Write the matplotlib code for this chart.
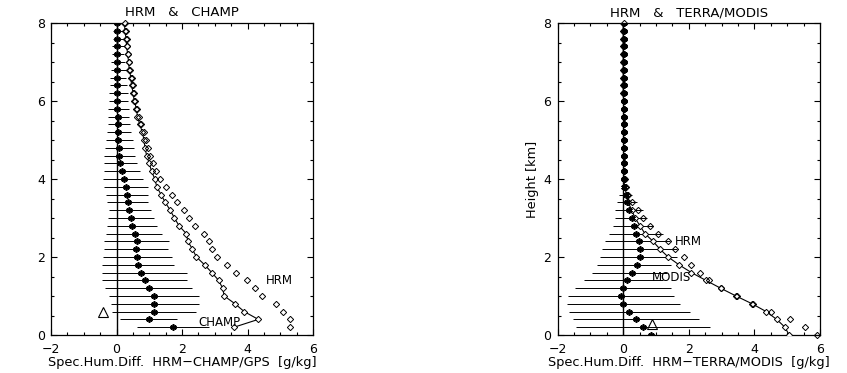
import numpy as np
import matplotlib
matplotlib.use("Agg")
import matplotlib.pyplot as plt
from matplotlib.ticker import MultipleLocator

# ---------------- data ----------------
heights_L = [0.2, 0.4, 0.6, 0.8, 1.0, 1.2, 1.4, 1.6, 1.8, 2.0,
             2.2, 2.4, 2.6, 2.8, 3.0, 3.2, 3.4, 3.6, 3.8, 4.0,
             4.2, 4.4, 4.6, 4.8, 5.0, 5.2, 5.4, 5.6, 5.8, 6.0,
             6.2, 6.4, 6.6, 6.8, 7.0, 7.2, 7.4, 7.6, 7.8, 8.0]
champ_L = [3.59, 4.33, 3.90, 3.62, 3.29, 3.24, 3.12, 2.91, 2.69, 2.44,
           2.32, 2.18, 2.13, 1.91, 1.77, 1.64, 1.49, 1.36, 1.23, 1.17,
           1.07, 1.00, 0.92, 0.87, 0.84, 0.79, 0.71, 0.64, 0.61, 0.54,
           0.51, 0.46, 0.44, 0.39, 0.37, 0.34, 0.31, 0.29, 0.26, 0.24]
hrm_L = [5.30, 5.30, 5.09, 4.86, 4.44, 4.22, 3.97, 3.64, 3.36, 3.08,
         2.91, 2.81, 2.68, 2.40, 2.22, 2.05, 1.84, 1.68, 1.51, 1.33,
         1.20, 1.10, 1.03, 0.95, 0.90, 0.83, 0.74, 0.68, 0.64, 0.58,
         0.54, 0.49, 0.46, 0.42, 0.39, 0.36, 0.33, 0.31, 0.28, 0.26]
diff_L = [1.73, 0.98, 1.15, 1.16, 1.15, 0.98, 0.86, 0.74, 0.65, 0.64,
          0.59, 0.63, 0.55, 0.47, 0.44, 0.39, 0.34, 0.32, 0.29, 0.22,
          0.16, 0.12, 0.09, 0.07, 0.06, 0.05, 0.04, 0.04, 0.03, 0.02,
          0.02, 0.01, 0.00, 0.00, 0.00, 0.00, 0.00, 0.02, 0.02, 0.03]
err_lo_L = [0.64, 0.11, -0.14, -0.17, -0.24, -0.35, -0.43, -0.43, -0.45, -0.40,
            -0.38, -0.37, -0.32, -0.29, -0.26, -0.23, -0.29, -0.33, -0.37, -0.40,
            -0.38, -0.37, -0.37, -0.35, -0.32, -0.29, -0.27, -0.27, -0.25, -0.22,
            -0.22, -0.19, -0.19, -0.17, -0.17, -0.15, -0.15, -0.12, -0.12, -0.09]
err_hi_L = [2.83, 1.86, 2.42, 2.52, 2.52, 2.32, 2.15, 2.15, 1.76, 1.69,
            1.56, 1.60, 1.40, 1.25, 1.15, 1.05, 0.97, 0.97, 0.97, 0.82,
            0.72, 0.62, 0.56, 0.52, 0.49, 0.44, 0.42, 0.39, 0.39, 0.36,
            0.34, 0.32, 0.29, 0.29, 0.26, 0.24, 0.24, 0.22, 0.18, 0.15]
tri_L = (-0.40, 0.58)

heights_R = [0.0, 0.2, 0.4, 0.6, 0.8, 1.0, 1.2, 1.4, 1.6, 1.8, 2.0,
             2.2, 2.4, 2.6, 2.8, 3.0, 3.2, 3.4, 3.6, 3.8, 4.0,
             4.2, 4.4, 4.6, 4.8, 5.0, 5.2, 5.4, 5.6, 5.8, 6.0,
             6.2, 6.4, 6.6, 6.8, 7.0, 7.2, 7.4, 7.6, 7.8, 8.0]
modis_R = [5.06, 4.93, 4.68, 4.36, 3.93, 3.44, 2.97, 2.52, 2.08, 1.70, 1.37,
           1.12, 0.91, 0.66, 0.51, 0.36, 0.26, 0.15, 0.10, 0.04, 0.02,
           0.01, 0.01, 0.01, 0.01, 0.01, 0.01, 0.01, 0.01, 0.01, 0.01,
           0.00, 0.00, 0.00, 0.00, 0.00, 0.00, 0.00, 0.00, 0.00, 0.00]
hrm_R = [5.90, 5.54, 5.08, 4.52, 3.95, 3.46, 2.99, 2.62, 2.34, 2.08, 1.86,
         1.58, 1.37, 1.07, 0.81, 0.61, 0.44, 0.27, 0.15, 0.08, 0.04,
         0.03, 0.03, 0.03, 0.03, 0.03, 0.03, 0.03, 0.03, 0.03, 0.03,
         0.03, 0.03, 0.03, 0.03, 0.03, 0.03, 0.03, 0.03, 0.03, 0.03]
diff_R = [0.84, 0.59, 0.38, 0.18, 0.00, -0.07, 0.00, 0.12, 0.27, 0.41, 0.50,
          0.50, 0.48, 0.39, 0.33, 0.26, 0.18, 0.12, 0.07, 0.03, 0.02,
          0.03, 0.03, 0.03, 0.03, 0.03, 0.03, 0.03, 0.03, 0.03, 0.03,
          0.03, 0.03, 0.03, 0.03, 0.03, 0.03, 0.03, 0.03, 0.03, 0.03]
err_lo_R = [np.nan, -1.44, -1.54, -1.66, -1.71, -1.68, -1.47, -1.20, -0.96, -0.81, -0.71,
            -0.64, -0.56, -0.44, -0.30, -0.25, -0.24, -0.18, -0.12, -0.05, -0.04,
            -0.03, -0.03, -0.03, -0.03, -0.03, -0.03, -0.03, -0.03, -0.02, -0.02,
            -0.02, -0.02, -0.02, -0.02, -0.02, -0.02, -0.02, -0.02, -0.02, -0.02]
err_hi_R = [np.nan, 2.64, 2.32, 2.03, 1.73, 1.55, 1.47, 1.22, 1.32, 1.47, 1.63,
            1.63, 1.42, 1.22, 0.91, 0.71, 0.61, 0.41, 0.26, 0.17, 0.10,
            0.08, 0.08, 0.08, 0.08, 0.07, 0.07, 0.07, 0.07, 0.07, 0.07,
            0.06, 0.06, 0.06, 0.06, 0.06, 0.06, 0.06, 0.06, 0.06, 0.06]
tri_R = (0.87, 0.28)

xticks = [-2, 0, 2, 4, 6]
yticks = [0, 2, 4, 6, 8]

# ---------------- figure ----------------
plt.rcParams['font.family'] = ['DejaVu Sans']
FS_TICK = 9
FS_LAB = 9.3
FS_TITLE = 9.5
FS_TXT = 8.5
fig = plt.figure(figsize=(8.47, 3.73), dpi=100)
axL = fig.add_axes([51 / 847, 38 / 373, 262 / 847, 312 / 373])
axR = fig.add_axes([557.7 / 847, 38 / 373, 262.3 / 847, 312 / 373])


def draw(ax, h, obs, hrm, diff, lo, hi, tri, title, xlabel, labels, ylabel=None):
    h = np.asarray(h)
    ax.set_xlim(-2, 6)
    ax.set_ylim(0, 8)
    ax.axvline(0, color='black', lw=1.0, zorder=2)
    ax.hlines(h, lo, hi, color='black', lw=0.7, zorder=2)
    ax.plot(diff, h, linestyle='none', marker=(6, 2, 0), markersize=4.6,
            mew=1.2, color='black', zorder=4)
    ax.plot(obs, h, color='black', lw=0.8, marker='D', markersize=3.2,
            mfc='white', mec='black', mew=0.7, zorder=3)
    ax.plot(hrm, h, linestyle='none', marker='D', markersize=3.2,
            mfc='none', mec='black', mew=0.7, zorder=3, clip_on=False)
    ax.plot([tri[0]], [tri[1]], linestyle='none', marker='^', markersize=7,
            mfc='none', mec='black', mew=0.8, zorder=5)
    for (tx, ty, s) in labels:
        ax.text(tx, ty, s, fontsize=FS_TXT, ha='center', va='center', zorder=6)
    ax.set_title(title, fontsize=FS_TITLE, pad=5)
    ax.set_xlabel(xlabel, fontsize=FS_LAB, labelpad=0)
    if ylabel:
        ax.set_ylabel(ylabel, fontsize=FS_LAB, labelpad=3)
    ax.set_xticks(xticks)
    ax.set_yticks(yticks)
    ax.xaxis.set_minor_locator(MultipleLocator(0.5))
    ax.yaxis.set_minor_locator(MultipleLocator(0.5))
    ax.tick_params(which='both', direction='in', top=True, right=True,
                   labelsize=FS_TICK, width=0.8)
    ax.tick_params(which='major', length=4.5)
    ax.tick_params(which='minor', length=2.3)
    ax.tick_params(axis='x', which='major', pad=5.5)
    ax.tick_params(axis='y', which='major', pad=4.5)
    for sp in ax.spines.values():
        sp.set_linewidth(0.9)


draw(axL, heights_L, champ_L, hrm_L, diff_L, err_lo_L, err_hi_L, tri_L,
     'HRM   &   CHAMP', 'Spec.Hum.Diff.  HRM\u2212CHAMP/GPS  [g/kg]',
     [(4.97, 1.39, 'HRM'), (3.14, 0.32, 'CHAMP')])
draw(axR, heights_R, modis_R, hrm_R, diff_R, err_lo_R, err_hi_R, tri_R,
     'HRM   &   TERRA/MODIS', 'Spec.Hum.Diff.  HRM\u2212TERRA/MODIS  [g/kg]',
     [(1.98, 2.39, 'HRM'), (1.47, 1.47, 'MODIS')], ylabel='Height [km]')

fig.savefig('out.png', dpi=100)
